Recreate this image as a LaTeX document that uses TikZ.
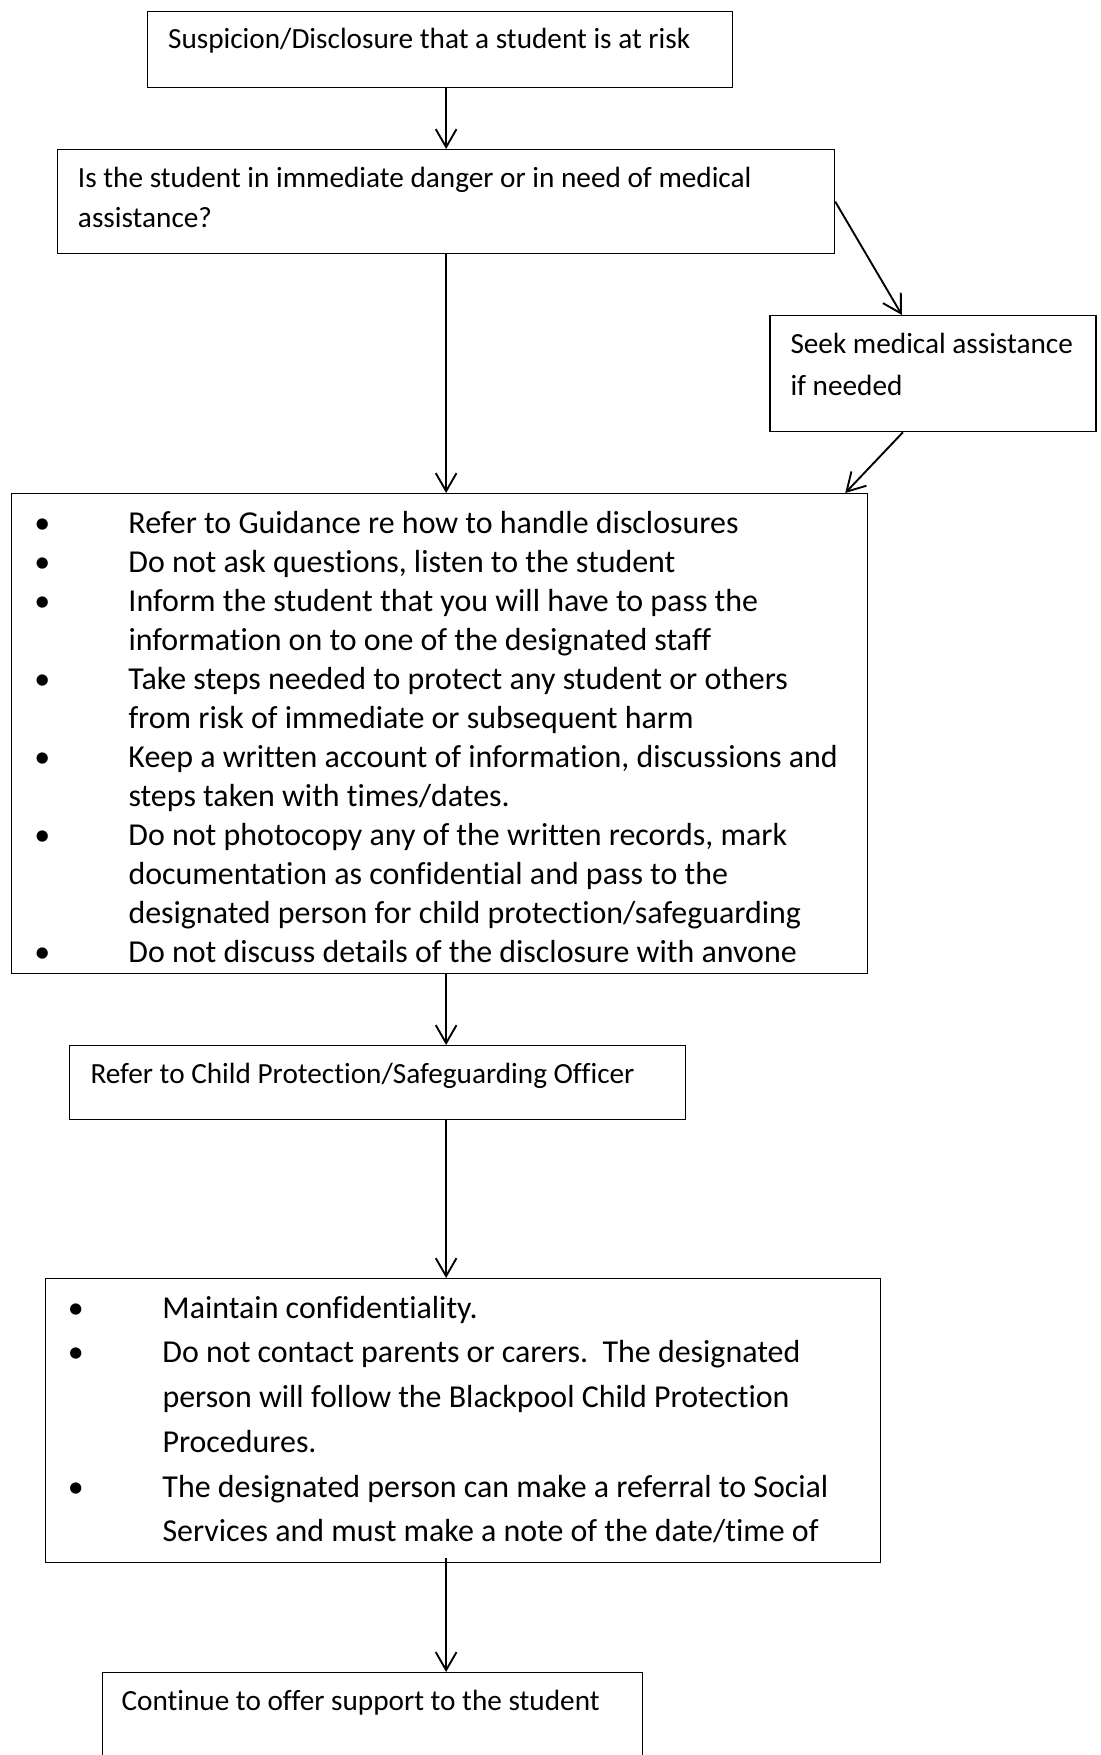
\documentclass[tikz,border=0pt]{standalone}
\usepackage{fontspec}
\setmainfont{Carlito}[Ligatures=NoCommon]
\usetikzlibrary{arrows.meta}
\newcommand{\px}{0.4pt}
\tikzset{
  box/.style={draw, line width=0.5pt, inner sep=0pt, anchor=north west},
  txt/.style={anchor=base west, inner sep=0pt, font=\fontsize{11.7}{16}\selectfont},
  listtxt/.style={anchor=base west, inner sep=0pt, font=\fontsize{12.77}{15.62}\selectfont},
  arr/.style={-{Straight Barb[length=7.2pt,width=8.3pt]}, line width=0.75pt}
}
\begin{document}
\begin{tikzpicture}[x=\px, y=-\px]
    \useasboundingbox (0,0) rectangle (1101,1755);
    \clip (0,0) rectangle (1101,1755);
    % boxes
    \node[box, minimum width={585*\px}, minimum height={76*\px}] (risk) at (146.5,10.5) {};
    \node[box, minimum width={777*\px}, minimum height={104*\px}] (danger) at (57,149) {};
    \node[box, minimum width={326*\px}, minimum height={116*\px}] (seek) at (769.3,315) {};
    \node[box, minimum width={856.5*\px}, minimum height={480*\px}] (steps) at (10.5,493) {};
    \node[box, minimum width={616*\px}, minimum height={74*\px}] (refer) at (69,1045) {};
    \node[box, minimum width={835*\px}, minimum height={284*\px}] (keep) at (45,1278) {};
    \node[box, minimum width={540*\px}, minimum height={140*\px}] (support) at (102,1672) {};
    % texts
    \node[txt] (riskT) at (167.6,48) {Suspicion/Disclosure that a student is at risk};
    \node[txt] (dangerT) at (77.5,187) {\begin{tabular}[t]{@{}l@{}}Is the student in immediate danger or in need of medical\\ assistance?\end{tabular}};
    \node[txt, font=\fontsize{11.7}{16.8}\selectfont] (seekT) at (790,353) {\begin{tabular}[t]{@{}l@{}}Seek medical assistance\\ if needed\end{tabular}};
    \node[listtxt] (stepsT) at (34,533) {\begin{tabular}[t]{@{}p{37.6pt}@{}l@{}}
        • & Refer to Guidance re how to handle disclosures\\
        • & Do not ask questions, listen to the student\\
        • & Inform the student that you will have to pass the\\
          & information on to one of the designated staff\\
        • & Take steps needed to protect any student or others\\
          & from risk of immediate or subsequent harm\\
        • & Keep a written account of information, discussions and\\
          & steps taken with times/dates.\\
        • & Do not photocopy any of the written records, mark\\
          & documentation as confidential and pass to the\\
          & designated person for child protection/safeguarding\\
        • & Do not discuss details of the disclosure with anvone
      \end{tabular}};
    \node[txt] (referT) at (90,1083) {Refer to Child Protection/Safeguarding Officer};
    \node[listtxt, font=\fontsize{12.77}{17.9}\selectfont] (keepT) at (67.5,1318) {\begin{tabular}[t]{@{}p{37.8pt}@{}l@{}}
        • & Maintain confidentiality.\\
        • & Do not contact parents or carers.\ \ The designated\\
          & person will follow the Blackpool Child Protection\\
          & Procedures.\\
        • & The designated person can make a referral to Social\\
          & Services and must make a note of the date/time of
      \end{tabular}};
    \node[txt] (supportT) at (121,1710) {Continue to offer support to the student};
    % arrows
    \draw[arr] (danger.north |- risk.south) -- (danger.north);
    \draw[arr] (danger.south) -- (danger.south |- steps.north);
    \draw[arr] (danger.east) -- ([xshift={-31*\px}]seek.north);
    \draw[arr] ([xshift={-30*\px}]seek.south) -- ([xshift={-23*\px}]steps.north east);
    \draw[arr] (danger.south |- steps.south) -- (danger.south |- refer.north);
    \draw[arr] (danger.south |- refer.south) -- (danger.south |- keep.north);
    \draw[arr] ([yshift={5*\px}]danger.south |- keep.south) -- (danger.south |- support.north);
\end{tikzpicture}
\end{document}
